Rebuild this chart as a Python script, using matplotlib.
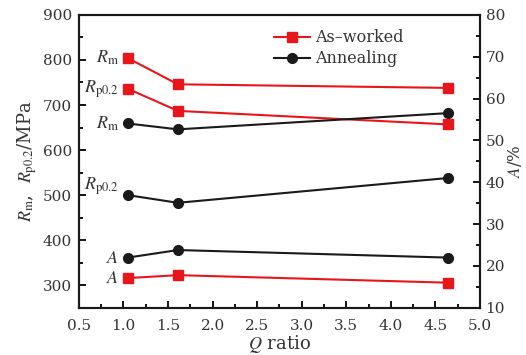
import matplotlib
matplotlib.use("Agg")
import matplotlib.pyplot as plt
from matplotlib.ticker import MultipleLocator

plt.rcParams["font.family"] = ["DejaVu Serif"]
plt.rcParams["mathtext.fontset"] = "stix"

# Data #
q_ratio = [1.05, 1.61, 4.64]

worked_rm  = [804, 746, 738]
worked_rp  = [736, 687, 657]
worked_a   = [17.1, 17.8, 16.0]

anneal_rm  = [659, 646, 682]
anneal_rp  = [500, 483, 538]
anneal_a   = [22.0, 23.8, 22.0]

RED = "#e8161b"
BLACK = "#1a1a1a"
TXT = "#333333"

# Plotting #
fig = plt.figure(figsize=(5.26, 3.55), dpi=100)
ax = fig.add_axes([0.150, 0.133, 0.7625, 0.825])
ax2 = ax.twinx()

red_kw = dict(color=RED, marker="s", markersize=6.5, lw=1.5)
blk_kw = dict(color=BLACK, marker="o", markersize=7, lw=1.5)

l1, = ax.plot(q_ratio, worked_rm, label="As\u2013worked", **red_kw)
ax.plot(q_ratio, worked_rp, **red_kw)
l2, = ax.plot(q_ratio, anneal_rm, label="Annealing", **blk_kw)
ax.plot(q_ratio, anneal_rp, **blk_kw)
ax2.plot(q_ratio, worked_a, **red_kw)
ax2.plot(q_ratio, anneal_a, **blk_kw)

ax.set_xlim(0.5, 5.0)
ax.set_ylim(250, 900)
ax2.set_ylim(10, 80)

ax.xaxis.set_minor_locator(MultipleLocator(0.25))
ax.yaxis.set_minor_locator(MultipleLocator(50))
ax2.yaxis.set_major_locator(MultipleLocator(10))
ax2.yaxis.set_minor_locator(MultipleLocator(5))
ax.set_xticks([0.5, 1.0, 1.5, 2.0, 2.5, 3.0, 3.5, 4.0, 4.5, 5.0])
ax.set_xticklabels(["0.5", "1.0", "1.5", "2.0", "2.5", "3.0", "3.5", "4.0", "4.5", "5.0"])
ax.set_yticks([300, 400, 500, 600, 700, 800, 900])

for a in (ax, ax2):
    a.tick_params(which="both", direction="in", labelsize=11, labelcolor=TXT, width=1.3)
    a.tick_params(which="major", length=5)
    a.tick_params(which="minor", length=3)
    for s in a.spines.values():
        s.set_linewidth(1.5)
        s.set_color(BLACK)
ax.tick_params(top=False, right=False)
ax.tick_params(axis="x", pad=8)
ax.tick_params(axis="y", pad=5)
ax2.tick_params(axis="y", pad=4)

ax.set_xlabel("$Q$ ratio", fontsize=13, color=TXT, labelpad=0)
ax.set_ylabel(r"$R_\mathrm{m}$,  $R_\mathrm{p0.2}$/MPa", fontsize=13, color=TXT, labelpad=3)
ax2.set_ylabel("$A$/%", fontsize=12, color=TXT, labelpad=1)

# Point labels #
lab_kw = dict(fontsize=13, color=TXT, ha="right", va="center")
ax.text(q_ratio[0] - 0.1, worked_rm[0], r"$R_\mathrm{m}$", **lab_kw)
ax.text(q_ratio[0] - 0.1, worked_rp[0], r"$R_\mathrm{p0.2}$", **lab_kw)
ax.text(q_ratio[0] - 0.1, anneal_rm[0], r"$R_\mathrm{m}$", **lab_kw)
ax.text(q_ratio[0] - 0.1, anneal_rp[0] + 20, r"$R_\mathrm{p0.2}$", **lab_kw)
ax2.text(q_ratio[0] - 0.1, anneal_a[0], "$A$", **lab_kw)
ax2.text(q_ratio[0] - 0.1, worked_a[0], "$A$", **lab_kw)

ax.legend(handles=[l1, l2], loc="upper left", bbox_to_anchor=(0.45, 1.0),
          frameon=False, fontsize=11.5, handlelength=2.3, handletextpad=0.3,
          labelspacing=0.25, labelcolor=TXT)

fig.savefig("out.png", dpi=100)
